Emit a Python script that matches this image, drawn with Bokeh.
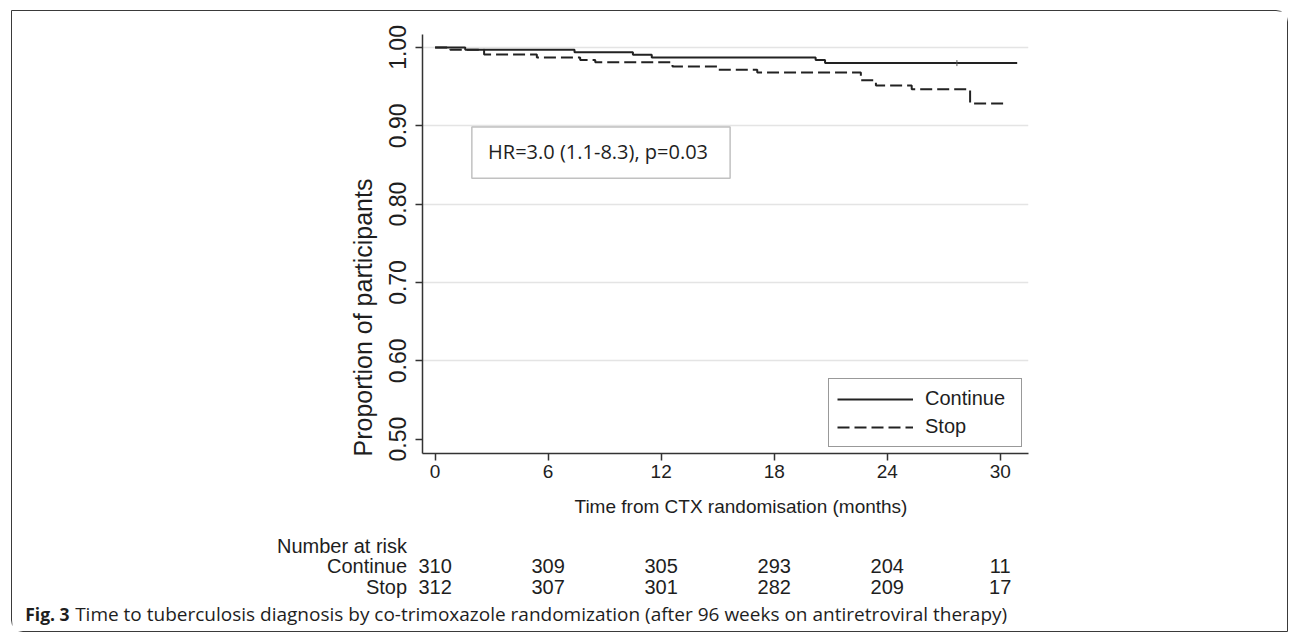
from bokeh.plotting import figure
from bokeh.layouts import column
from bokeh.models import (Range1d, FixedTicker, Label, BoxAnnotation, Legend,
                          LegendItem, PrintfTickFormatter, Title)
from bokeh.embed import file_html
from bokeh.resources import INLINE
from bokeh.core.properties import value

# ---------------- data ----------------
continue_time = [0, 1.6, 7.4, 10.5, 11.5, 20.2, 20.7]
continue_surv = [1.0, 0.997, 0.994, 0.9905, 0.987, 0.984, 0.980]
continue_end = 30.9
continue_censor = [27.7]

stop_time = [0, 0.8, 2.6, 5.4, 7.7, 8.5, 12.6, 15.0, 17.1, 22.6, 23.4, 25.3, 28.4]
stop_surv = [1.0, 0.997, 0.991, 0.987, 0.984, 0.981, 0.9755, 0.9715, 0.968,
             0.958, 0.9515, 0.9465, 0.9285]
stop_end = 30.4

risk_times = [0, 6, 12, 18, 24, 30]
risk_continue = [310, 309, 305, 293, 204, 11]
risk_stop = [312, 307, 301, 282, 209, 17]

x_ticks = [0, 6, 12, 18, 24, 30]
y_ticks = [0.5, 0.6, 0.7, 0.8, 0.9, 1.0]
y_grid = [0.6, 0.7, 0.8, 0.9, 1.0]

series_names = ["Continue", "Stop"]
risk_title = "Number at risk"
hr_text = "HR=3.0 (1.1-8.3), p=0.03"
x_title = "Time from CTX randomisation (months)"
y_title = "Proportion of participants"
caption_bold = "Fig. 3"
caption_rest = ("Time to tuberculosis diagnosis by co-trimoxazole randomization "
                "(after 96 weeks on antiretroviral therapy)")

# ---------------- layout constants ----------------
FONT = "Liberation Sans"
CAP_FONT = "Open Sans"
INK = "#1e1e1e"
W = 1275
HA, HB = 520, 100
BL, BR, BT, BB = 410, 259, 23, 78
X0, X1 = -0.67, 31.5
Y0, Y1 = 0.4817, 1.0165

# ---------------- main plot ----------------
p = figure(width=W, height=HA, output_backend="svg", toolbar_location=None,
           x_range=Range1d(X0, X1), y_range=Range1d(Y0, Y1),
           min_border_left=BL, min_border_right=BR,
           min_border_top=BT, min_border_bottom=BB,
           outline_line_color=None, background_fill_color="white",
           border_fill_color="white")

for ax in (p.xaxis[0], p.yaxis[0]):
    ax.axis_line_color = "#333333"
    ax.axis_line_width = 1.5
    ax.major_tick_line_color = "#333333"
    ax.major_tick_line_width = 1.5
    ax.major_tick_out = 7
    ax.major_tick_in = 0
    ax.minor_tick_line_color = None
    ax.major_label_text_font = FONT
    ax.major_label_text_color = INK

p.xaxis.ticker = FixedTicker(ticks=x_ticks)
p.xaxis.major_label_text_font_size = "19px"
p.xaxis.major_label_standoff = 4

p.yaxis.ticker = FixedTicker(ticks=y_ticks)
p.yaxis.formatter = PrintfTickFormatter(format="%.2f")
p.yaxis.major_label_orientation = "vertical"
p.yaxis.major_label_text_font_size = "23px"
p.yaxis.major_label_standoff = 9

p.add_layout(Title(text=x_title, align="left", offset=152, standoff=26,
                   text_font=FONT, text_font_size="19px", text_font_style="normal",
                   text_color=INK), "below")
p.add_layout(Title(text=y_title, align="left", offset=-3, standoff=19,
                   text_font=FONT, text_font_size="25px", text_font_style="normal",
                   text_color=INK), "left")

p.xgrid.visible = False
p.ygrid.ticker = FixedTicker(ticks=y_grid)
p.ygrid.grid_line_color = "#e4e4e4"
p.ygrid.grid_line_width = 1.5

# curves
r_cont = p.step(continue_time + [continue_end], continue_surv + [continue_surv[-1]],
                mode="after", line_color="#222222", line_width=2)
r_stop = p.step(stop_time + [stop_end], stop_surv + [stop_surv[-1]],
                mode="after", line_color="#222222", line_width=2, line_dash="12 5")
p.scatter(continue_censor, [continue_surv[-1]] * len(continue_censor), marker="dash",
          angle=1.5708, size=6, line_color="#555555", line_width=1)

# legend
legend = Legend(items=[LegendItem(label=series_names[0], renderers=[r_cont]),
                       LegendItem(label=series_names[1], renderers=[r_stop])],
                location=(406, 6), orientation="vertical")
legend.border_line_color = "#333333"
legend.border_line_width = 1.5
legend.background_fill_color = "white"
legend.background_fill_alpha = 1
legend.label_text_font = FONT
legend.label_text_font_size = "20px"
legend.label_text_color = INK
legend.glyph_width = 76
legend.glyph_height = 20
legend.label_height = 20
legend.label_width = 88
legend.spacing = 5
legend.padding = 8
legend.label_standoff = 12
legend.margin = 0
p.add_layout(legend)

# HR box
p.add_layout(BoxAnnotation(left=1.95, right=15.66, bottom=0.8331, top=0.8983,
                           fill_alpha=0, line_color="#333333", line_width=1.5))
p.add_layout(Label(x=8.65, y=0.8671, text=hr_text, text_align="center",
                   text_baseline="middle", text_font=CAP_FONT,
                   text_font_size="20px", text_color=INK))

# ---------------- risk table + caption ----------------
mpp = (X1 - X0) / (W - BL - BR)          # months per pixel of the main frame
t = figure(frame_width=W, frame_height=HB, output_backend="svg", toolbar_location=None,
           x_range=Range1d(X0 - BL * mpp, X1 + BR * mpp), y_range=Range1d(HB, 0),
           min_border_left=0, min_border_right=0, min_border_top=0, min_border_bottom=0,
           x_axis_location=None, y_axis_location=None,
           outline_line_color=None, background_fill_color="white",
           border_fill_color="white")
t.xgrid.visible = False
t.ygrid.visible = False
for fig in (p, t):
    if "frame_align" in fig.properties():
        fig.frame_align = False

row_y = [34.5, 55]
label_x = -1.49
t.text(x=[label_x], y=[14.5], text=[risk_title], text_align="right",
       text_baseline="alphabetic", text_font=value(FONT), text_font_size="20px",
       text_color=INK)
t.text(x=[label_x, label_x], y=row_y, text=series_names, text_align="right",
       text_baseline="alphabetic", text_font=value(FONT), text_font_size="20px",
       text_color=INK)
for counts, yy in zip([risk_continue, risk_stop], row_y):
    t.text(x=risk_times, y=[yy] * len(risk_times), text=[str(c) for c in counts],
           text_align="center", text_baseline="alphabetic", text_font=value(FONT),
           text_font_size="20px", text_color=INK)

t.text(x=[-21.76], y=[82], text=[caption_bold], text_align="left",
       text_baseline="alphabetic", text_font=value(CAP_FONT), text_font_size="17.5px",
       text_font_style="bold", text_color=INK)
t.text(x=[-19.11], y=[82], text=[caption_rest], text_align="left",
       text_baseline="alphabetic", text_font=value(CAP_FONT), text_font_size="19px",
       text_color=INK)

layout = column(p, t, margin=(10, 0, 0, 11), spacing=0,
                styles={"border": "1.5px solid #3a3a3a",
                        "border-radius": "0 12px 0 12px"})

open("out.html", "w").write(file_html(layout, INLINE))
